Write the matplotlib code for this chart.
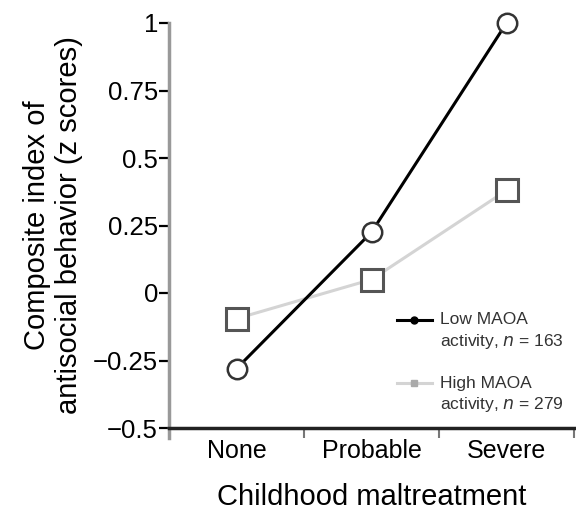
import matplotlib
matplotlib.use("Agg")
import matplotlib.pyplot as plt

plt.rcParams['font.family'] = ['Liberation Sans', 'DejaVu Sans']

categories = ['None', 'Probable', 'Severe']
low_maoa = [-0.28, 0.225, 1.0]
high_maoa = [-0.095, 0.05, 0.38]
y_ticks = [-0.5, -0.25, 0, 0.25, 0.5, 0.75, 1]
y_tick_labels = ['\u22120.5', '\u22120.25', '0', '0.25', '0.5', '0.75', '1']
low_label = ['Low MAOA', 'activity, $n$ = 163']
high_label = ['High MAOA', 'activity, $n$ = 279']

LOW_COLOR = 'black'
HIGH_COLOR = '#d4d4d4'

fig = plt.figure(figsize=(5.76, 5.2), dpi=100)
ax = fig.add_axes([169 / 576, 92 / 520, 405 / 576, 405 / 520])

x = range(1, len(categories) + 1)

# high MAOA first so the black line sits on top
ax.plot(x, high_maoa, color=HIGH_COLOR, lw=2.2, zorder=2,
        marker='s', ms=16, mfc='white', mec='#555555', mew=2.2)
ax.plot(x, low_maoa, color=LOW_COLOR, lw=2.2, zorder=3,
        marker='o', ms=14, mfc='white', mec='#333333', mew=1.8, clip_on=False)

ax.set_xlim(0.5, 3.5)
ax.set_ylim(-0.5, 1)
ax.set_xticks([1.5, 2.5, 3.5])
ax.set_xticklabels([])
ax.set_xticks(list(x), minor=True)
ax.set_xticklabels(categories, minor=True, fontsize=18)
ax.tick_params(axis='x', which='minor', length=0, pad=8)
ax.tick_params(axis='x', which='major', length=7, width=1.5, color='#777777',
               direction='out')
ax.set_yticks(y_ticks)
ax.set_yticklabels(y_tick_labels, fontsize=18.5)
ax.tick_params(axis='y', length=7, width=1.6, direction='out', pad=1)

ax.spines['top'].set_visible(False)
ax.spines['right'].set_visible(False)
ax.spines['left'].set_color('#999999')
ax.spines['left'].set_linewidth(2.5)
ax.spines['left'].set_bounds(-0.537, 1)
ax.spines['bottom'].set_linewidth(2.5)
ax.spines['bottom'].set_color('#222222')

ax.set_ylabel('Composite index of\nantisocial behavior (z scores)', fontsize=21,
              linespacing=1.2, labelpad=7)
ax.set_xlabel('Childhood maltreatment', fontsize=21, labelpad=14)

# legend drawn by hand: Prism puts the handle on the first text line
legend_rows = [(low_label, LOW_COLOR, 'black', 'o'),
               (high_label, HIGH_COLOR, '#aaaaaa', 's')]
for i, (lines, color, mcolor, mk) in enumerate(legend_rows):
    y0 = 0.267 - i * 0.156
    ax.plot([0.563, 0.649], [y0, y0], transform=ax.transAxes, color=color,
            lw=2.2, clip_on=False)
    ax.plot([0.606], [y0], transform=ax.transAxes, marker=mk, ms=5,
            color=mcolor, clip_on=False)
    for j, txt in enumerate(lines):
        ax.text(0.669, y0 - j * 0.054, txt, transform=ax.transAxes,
                fontsize=12.5, color='#333333', va='center', ha='left')

fig.savefig('out.png', dpi=100)
